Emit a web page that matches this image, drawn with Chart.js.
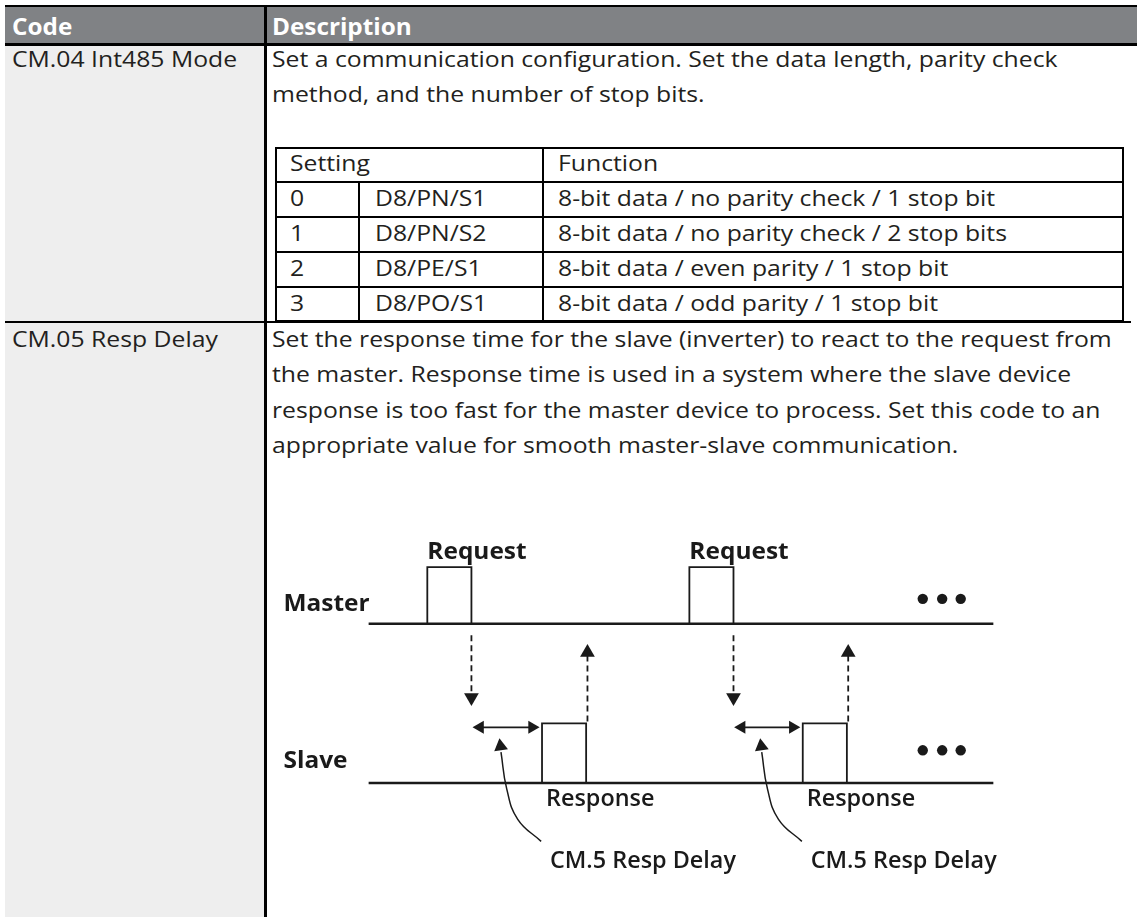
<!DOCTYPE html>
<html>
<head>
<meta charset="utf-8">
<script src="https://cdn.jsdelivr.net/npm/chart.js@4/dist/chart.umd.min.js"></script>
<style>
html,body{margin:0;padding:0;background:#fff;}
body{width:1137px;height:917px;position:relative;overflow:hidden;font-family:"Open Sans",sans-serif;color:#231f20;}
.box{position:absolute;}
.t{position:absolute;white-space:nowrap;transform-origin:0 0;}
#diagram{position:absolute;left:267px;top:505px;}
</style>
</head>
<body>
<div id="page"></div>
<canvas id="diagram" width="868" height="412"></canvas>
<script>
// ---------- table content ----------
const headerLabels = ['Code', 'Description'];
const codeNames = ['CM.04 Int485 Mode', 'CM.05 Resp Delay'];
const int485Lines = [
  'Set a communication configuration. Set the data length, parity check',
  'method, and the number of stop bits.'
];
const respDelayLines = [
  'Set the response time for the slave (inverter) to react to the request from',
  'the master. Response time is used in a system where the slave device',
  'response is too fast for the master device to process. Set this code to an',
  'appropriate value for smooth master-slave communication.'
];
const settingHeaders = ['Setting', 'Function'];
const settingValues = ['0', '1', '2', '3'];
const settingCodes = ['D8/PN/S1', 'D8/PN/S2', 'D8/PE/S1', 'D8/PO/S1'];
const settingFunctions = [
  '8-bit data / no parity check / 1 stop bit',
  '8-bit data / no parity check / 2 stop bits',
  '8-bit data / even parity / 1 stop bit',
  '8-bit data / odd parity / 1 stop bit'
];

// ---------- timing diagram values (time units, signal levels) ----------
const masterLow = 5.0, masterHigh = 5.983;
const slaveLow = 2.233, slaveHigh = 3.267;
const lineStart = 0, lineEnd = 141.6;
const requestStart = [13.3, 72.7];
const requestEnd = [23.3, 82.7];
const responseStart = [39.3, 98.4];
const responseEnd = [49.3, 108.4];
const requestArrowT = [23.3, 82.7];
const requestArrowFrom = 4.8, requestArrowTo = 3.72;
const responseArrowT = [49.6, 108.7];
const responseArrowFrom = 3.3, responseArrowTo = 4.5;
const delayFrom = [23.6, 82.9];
const delayTo = [38.7, 97.8];
const delayLevel = 3.2;
const curveT = [[30.0, 31.3, 33.8, 39.1], [89.1, 90.4, 92.9, 98.2]];
const curveV = [2.77, 2.13, 1.6, 1.217];
const dotT = [125.6, 130.0, 134.2];
const masterDotV = 5.433, slaveDotV = 2.8;
const labelTexts = ['Request', 'Request', 'Master', 'Slave', 'Response', 'Response', 'CM.5 Resp Delay', 'CM.5 Resp Delay'];
const labelT = [13.3, 72.7, -19.3, -19.3, 40.2, 99.3, 41.1, 100.2];
const labelV = [6.133, 6.133, 5.217, 2.5, 1.833, 1.833, 0.75, 0.75];
const labelWeight = ['700', '700', '700', '700', '600', '600', '600', '600'];
const labelSize = [23.5, 23.5, 23.5, 23.5, 22.5, 22.5, 22.5, 22.5];

// ---------- build table ----------
const page = document.getElementById('page');
const FS = 22.5, SX = 1.1, LH = 35.5;
function box(style) {
  const d = document.createElement('div');
  d.className = 'box';
  d.setAttribute('style', style);
  page.appendChild(d);
}
function text(x, baseline, s, opts) {
  opts = opts || {};
  const f = opts.size || FS;
  const off = (LH - 1.362 * f) / 2 + 1.069 * f;
  const d = document.createElement('div');
  d.className = 't';
  d.setAttribute('style', 'left:' + x + 'px;top:' + (baseline - off) + 'px;font-size:' + f + 'px;line-height:' + LH +
    'px;transform:scaleX(' + (opts.sx || SX) + ');font-weight:' + (opts.weight || 400) + ';color:' + (opts.color || '#231f20'));
  d.textContent = s;
  page.appendChild(d);
}
// header
box('left:5px;top:4.5px;width:1132px;height:2.5px;background:#000');
box('left:5px;top:7px;width:1132px;height:36px;background:#808285');
box('left:5px;top:43px;width:1132px;height:2.5px;background:#000');
text(12, 35, headerLabels[0], {weight: 700, color: '#fff', size: 22.5, sx: 1.08});
text(272, 35, headerLabels[1], {weight: 700, color: '#fff', size: 22.5, sx: 1.08});
// left column
box('left:5px;top:45.5px;width:259px;height:872px;background:#eeeeee');
// vertical divider
box('left:264px;top:7px;width:2.5px;height:910px;background:#000');
// inner table grid
const rowTops = [147, 181.5, 216.5, 251.5, 286.5, 321.5];
box('left:275px;top:147px;width:849px;height:175px;border:2px solid #000;box-sizing:border-box');
for (let r = 1; r < 5; r++) box('left:275px;top:' + (rowTops[r] - 1) + 'px;width:849px;height:2px;background:#000');
box('left:542px;top:147px;width:2px;height:175px;background:#000');
box('left:358px;top:181px;width:2px;height:141px;background:#000');
// row separator
box('left:5px;top:320.5px;width:1126px;height:2.5px;background:#000');
// code names
text(12, 67, codeNames[0]);
text(12, 347, codeNames[1]);
// descriptions
int485Lines.forEach((s, i) => text(272, 67 + i * 35.5, s));
respDelayLines.forEach((s, i) => text(272, 347 + i * 35.5, s));
// inner table text
text(290, rowTops[0] + 24.5, settingHeaders[0]);
text(558, rowTops[0] + 24.5, settingHeaders[1]);
settingValues.forEach((v, i) => {
  const b = rowTops[i + 1] + 24.5;
  text(290, b, v);
  text(375, b, settingCodes[i]);
  text(558, b, settingFunctions[i]);
});

// ---------- timing diagram with Chart.js ----------
const black = '#1a1a1a';
const datasets = [];
function seg(points, opts) {
  datasets.push(Object.assign({
    type: 'line', data: points, borderColor: black, borderWidth: 2,
    pointRadius: 0, tension: 0, fill: false, clip: false
  }, opts || {}));
}
seg([{x: lineStart, y: masterLow}, {x: lineEnd, y: masterLow}], {borderWidth: 2.6});
seg([{x: lineStart, y: slaveLow}, {x: lineEnd, y: slaveLow}], {borderWidth: 2.6});
requestStart.forEach((s, i) => seg([{x: s, y: masterLow}, {x: s, y: masterHigh}, {x: requestEnd[i], y: masterHigh}, {x: requestEnd[i], y: masterLow}], {borderWidth: 1.8}));
responseStart.forEach((s, i) => seg([{x: s, y: slaveLow}, {x: s, y: slaveHigh}, {x: responseEnd[i], y: slaveHigh}, {x: responseEnd[i], y: slaveLow}], {borderWidth: 1.8}));
requestArrowT.forEach(t => seg([{x: t, y: requestArrowFrom}, {x: t, y: requestArrowTo + 0.05}], {borderDash: [6, 4], borderWidth: 1.8}));
responseArrowT.forEach(t => seg([{x: t, y: responseArrowFrom}, {x: t, y: responseArrowTo - 0.05}], {borderDash: [6, 4], borderWidth: 1.8}));
delayFrom.forEach((f, i) => seg([{x: f + 1, y: delayLevel}, {x: delayTo[i] - 1, y: delayLevel}], {borderWidth: 1.8}));
curveT.forEach(ts => seg(ts.map((t, k) => ({x: t, y: curveV[k]})), {borderWidth: 1.5, tension: 0.45}));
const heads = [], headRot = [], headRad = [];
requestArrowT.forEach(t => { heads.push({x: t, y: requestArrowTo}); headRot.push(180); headRad.push(8.5); });
responseArrowT.forEach(t => { heads.push({x: t, y: responseArrowTo}); headRot.push(0); headRad.push(8.5); });
delayFrom.forEach((f, i) => {
  heads.push({x: f + 1.65, y: delayLevel}); headRot.push(270); headRad.push(7.5);
  heads.push({x: delayTo[i] - 1.65, y: delayLevel}); headRot.push(90); headRad.push(7.5);
});
curveT.forEach(ts => { heads.push({x: ts[0] - 0.1, y: curveV[0] + 0.1}); headRot.push(-8); headRad.push(8); });
datasets.push({type: 'scatter', data: heads, pointStyle: 'triangle', pointRotation: headRot, pointRadius: headRad,
  backgroundColor: black, borderColor: black, borderWidth: 0, clip: false});
const dots = dotT.map(t => ({x: t, y: masterDotV})).concat(dotT.map(t => ({x: t, y: slaveDotV})));
datasets.push({type: 'scatter', data: dots, pointStyle: 'circle', pointRadius: 5.2, backgroundColor: black, borderWidth: 0, clip: false});

const labelPlugin = {
  id: 'labels',
  afterDatasetsDraw(chart) {
    const ctx = chart.ctx, xs = chart.scales.x, ys = chart.scales.y;
    labelTexts.forEach((s, i) => {
      ctx.save();
      ctx.fillStyle = black;
      ctx.textBaseline = 'alphabetic';
      ctx.textAlign = 'left';
      ctx.font = labelWeight[i] + ' ' + labelSize[i] + 'px "Open Sans", sans-serif';
      ctx.translate(xs.getPixelForValue(labelT[i]), ys.getPixelForValue(labelV[i]));
      ctx.scale(1.04, 1);
      ctx.fillText(s, 0, 0);
      ctx.restore();
    });
  }
};

new Chart(document.getElementById('diagram'), {
  type: 'line',
  data: {datasets},
  options: {
    responsive: false, animation: false, events: [],
    layout: {padding: 0},
    plugins: {legend: {display: false}, tooltip: {enabled: false}},
    scales: {
      x: {type: 'linear', min: -21.11, max: 171.78, display: false},
      y: {type: 'linear', min: 0.05, max: 6.9167, display: false}
    }
  },
  plugins: [labelPlugin]
});
</script>
</body>
</html>
